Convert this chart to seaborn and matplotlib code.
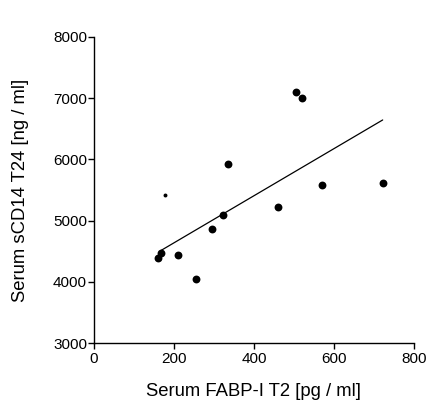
import matplotlib
matplotlib.use("Agg")
import matplotlib.pyplot as plt
import seaborn as sns
import pandas as pd

fabp = [161, 167, 209, 254, 296, 323, 336, 460, 505, 521, 571, 722]
scd14 = [4391, 4478, 4446, 4054, 4870, 5098, 5920, 5223, 7100, 7007, 5588, 5610]
small_x = [177]
small_y = [5414]
line_x = [167, 722]
line_y = [4511, 6643]

sns.set_style("ticks")
plt.rcParams['font.family'] = ['Liberation Sans', 'DejaVu Sans']
plt.rcParams['text.color'] = 'black'
plt.rcParams['axes.labelcolor'] = 'black'

fig = plt.figure(figsize=(4.28, 4.0), dpi=100)
ax = fig.add_axes([0.2196, 0.142, 0.967 - 0.2196, 0.908 - 0.142])

df = pd.DataFrame({"x": fabp, "y": scd14})
sns.scatterplot(data=df, x="x", y="y", ax=ax, color="black", s=32, edgecolor="black", linewidth=0)
sns.scatterplot(x=small_x, y=small_y, ax=ax, color="black", s=8, edgecolor="black", linewidth=0)
sns.lineplot(x=line_x, y=line_y, ax=ax, color="black", linewidth=0.9)

ax.set_xlim(0, 800)
ax.set_ylim(3000, 8000)
ax.set_xticks([0, 200, 400, 600, 800])
ax.set_yticks([3000, 4000, 5000, 6000, 7000, 8000])
sns.despine(ax=ax)
for s in ["left", "bottom"]:
    ax.spines[s].set_linewidth(1.0)
    ax.spines[s].set_color("black")
ax.tick_params(axis="both", length=4, width=1.0, colors="black", labelcolor="black", labelsize=11, pad=1)
ax.tick_params(axis="x", pad=2)
ax.set_xlabel("Serum FABP-I T2 [pg / ml]", fontsize=13.3, labelpad=12.5, color="black")
ax.set_ylabel("Serum sCD14 T24 [ng / ml]", fontsize=13.3, labelpad=17, color="black")

fig.savefig("out.png", dpi=100)
